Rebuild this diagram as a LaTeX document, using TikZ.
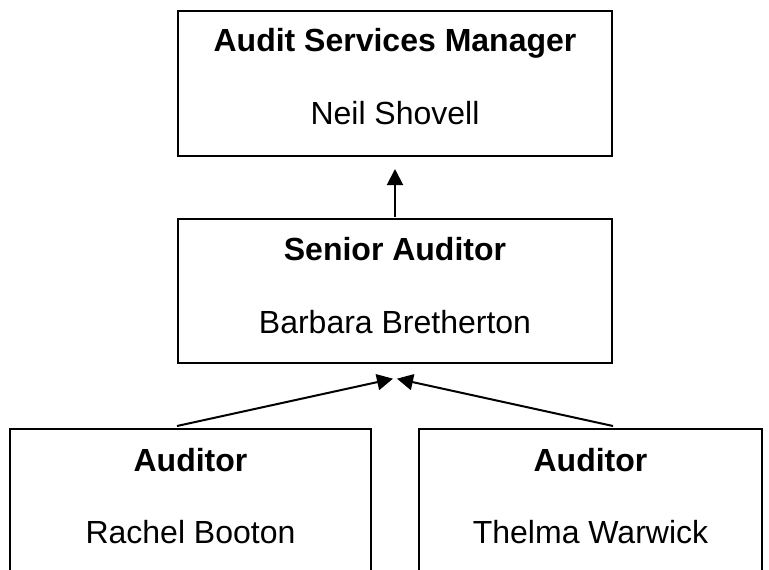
\documentclass[tikz,border=0pt]{standalone}
\usepackage{fontspec}
\setmainfont{Liberation Sans}
\usetikzlibrary{arrows.meta}
\begin{document}
\begin{tikzpicture}[x=0.75pt,y=-0.75pt,
  box/.style={draw=black, line width=1.5pt, rectangle, inner sep=0pt},
  ttl/.style={anchor=base, inner sep=0pt, font=\fontsize{24pt}{29pt}\selectfont\bfseries},
  nm/.style={anchor=base, inner sep=0pt, font=\fontsize{24pt}{29pt}\selectfont},
  arr/.style={line width=1.5pt, -{Triangle[length=12pt,width=12pt]}}]
\useasboundingbox (0,0) rectangle (769,569);
\clip (0,0) rectangle (769,569);
\fill[white] (0,0) rectangle (769,569);
% boxes
\node[box, minimum width=325.5pt, minimum height=108.75pt] (top) at (395,83.5) {};
\node[box, minimum width=325.5pt, minimum height=108pt] (mid) at (395,291) {};
\node[box, minimum width=270.75pt, minimum height=150pt] (left) at (190.5,529) {};
\node[box, minimum width=257.25pt, minimum height=150pt] (right) at (590.5,529) {};
% texts
\node[ttl] (t1) at (395,51) {Audit Services Manager};
\node[nm] (n1) at (395,124) {Neil Shovell};
\node[ttl] (t2) at (395,260) {Senior Auditor};
\node[nm] (n2) at (395,333) {Barbara Bretherton};
\node[ttl] (t3) at (190.5,471) {Auditor};
\node[nm] (n3) at (190.5,543) {Rachel Booton};
\node[ttl] (t4) at (590.5,471) {Auditor};
\node[nm] (n4) at (590.5,543) {Thelma Warwick};
% connectors
\coordinate (tipT) at ([yshift=-9pt]top.south);
\coordinate (tipL) at ([xshift=-1.5pt,yshift=-11pt]mid.south);
\coordinate (tipR) at ([xshift=1.5pt,yshift=-11pt]mid.south);
\draw[arr] ([yshift=1pt]mid.north) -- (tipT);
\draw[arr] ([yshift=1.5pt]left.north -| mid.west) -- (tipL);
\draw[arr] ([yshift=1.5pt]right.north -| mid.east) -- (tipR);
\end{tikzpicture}
\end{document}
